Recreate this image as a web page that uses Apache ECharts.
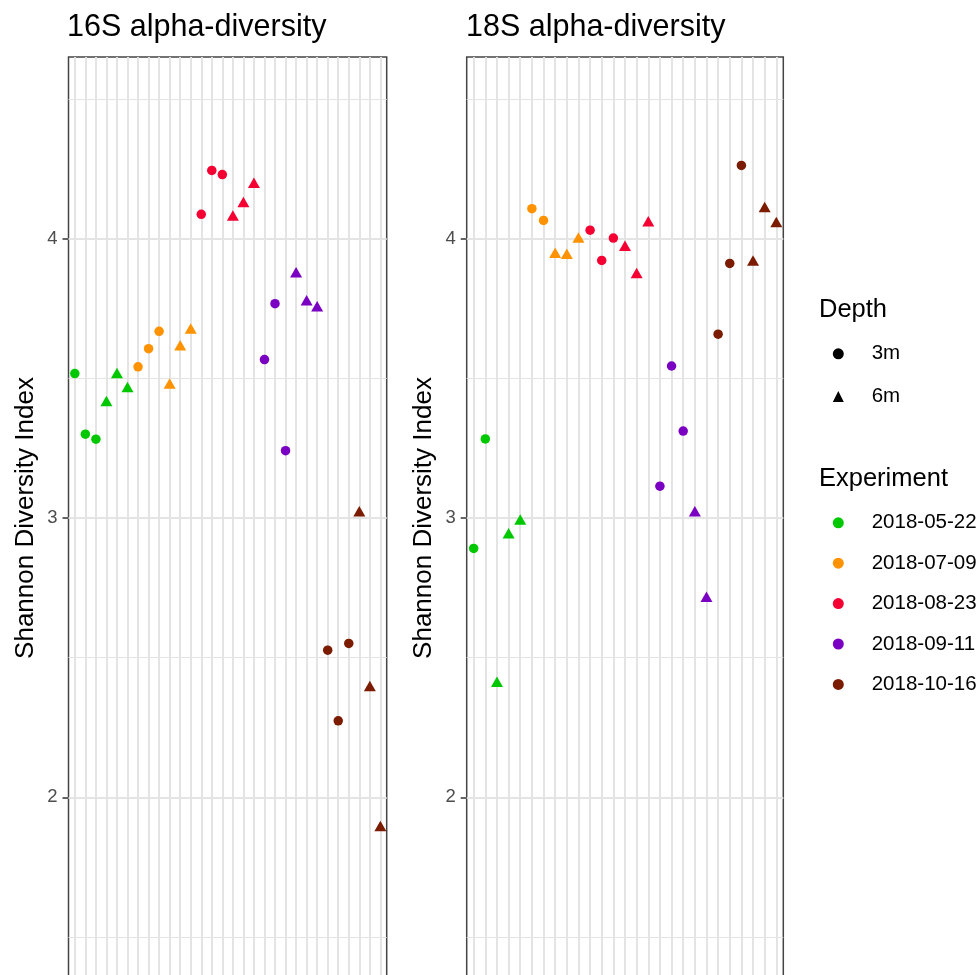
<!DOCTYPE html>
<html>
<head>
<meta charset="utf-8">
<script src="https://cdn.jsdelivr.net/npm/echarts@6/dist/echarts.min.js"></script>
<style>html,body{margin:0;padding:0;background:#fff;}#c{width:978px;height:975px;}</style>
</head>
<body>
<div id="c"></div>
<script>
// ---------- data ----------
const experiments = ['2018-05-22', '2018-07-09', '2018-08-23', '2018-09-11', '2018-10-16'];
const expColors = ['#00C800', '#FF9200', '#F50032', '#7A00C2', '#7B1B00'];
const depths = ['3m', '6m'];

// 16S samples (x order as plotted)
const samples16S = ['0522-3m-a','0522-3m-b','0522-3m-c','0522-6m-a','0522-6m-b','0522-6m-c',
  '0709-3m-a','0709-3m-b','0709-3m-c','0709-6m-a','0709-6m-b','0709-6m-c',
  '0823-3m-a','0823-3m-b','0823-3m-c','0823-6m-a','0823-6m-b','0823-6m-c',
  '0911-3m-a','0911-3m-b','0911-3m-c','0911-6m-a','0911-6m-b','0911-6m-c',
  '1016-3m-a','1016-3m-b','1016-3m-c','1016-6m-a','1016-6m-b','1016-6m-c'];
const exp16S = ['2018-05-22','2018-05-22','2018-05-22','2018-05-22','2018-05-22','2018-05-22',
  '2018-07-09','2018-07-09','2018-07-09','2018-07-09','2018-07-09','2018-07-09',
  '2018-08-23','2018-08-23','2018-08-23','2018-08-23','2018-08-23','2018-08-23',
  '2018-09-11','2018-09-11','2018-09-11','2018-09-11','2018-09-11','2018-09-11',
  '2018-10-16','2018-10-16','2018-10-16','2018-10-16','2018-10-16','2018-10-16'];
const depth16S = ['3m','3m','3m','6m','6m','6m','3m','3m','3m','6m','6m','6m',
  '3m','3m','3m','6m','6m','6m','3m','3m','3m','6m','6m','6m','3m','3m','3m','6m','6m','6m'];
const shannon16S = [3.517, 3.300, 3.282, 3.419, 3.519, 3.469,
  3.541, 3.606, 3.668, 3.481, 3.618, 3.678,
  4.087, 4.244, 4.229, 4.083, 4.131, 4.200,
  3.567, 3.767, 3.241, 3.880, 3.779, 3.758,
  2.527, 2.274, 2.551, 3.024, 2.399, 1.898];

// 18S samples
const samples18S = ['0522-3m-a','0522-3m-b','0522-6m-a','0522-6m-b','0522-6m-c',
  '0709-3m-a','0709-3m-b','0709-6m-a','0709-6m-b','0709-6m-c',
  '0823-3m-a','0823-3m-b','0823-3m-c','0823-6m-a','0823-6m-b','0823-6m-c',
  '0911-3m-a','0911-3m-b','0911-3m-c','0911-6m-a','0911-6m-b',
  '1016-3m-a','1016-3m-b','1016-3m-c','1016-6m-a','1016-6m-b','1016-6m-c'];
const exp18S = ['2018-05-22','2018-05-22','2018-05-22','2018-05-22','2018-05-22',
  '2018-07-09','2018-07-09','2018-07-09','2018-07-09','2018-07-09',
  '2018-08-23','2018-08-23','2018-08-23','2018-08-23','2018-08-23','2018-08-23',
  '2018-09-11','2018-09-11','2018-09-11','2018-09-11','2018-09-11',
  '2018-10-16','2018-10-16','2018-10-16','2018-10-16','2018-10-16','2018-10-16'];
const depth18S = ['3m','3m','6m','6m','6m','3m','3m','6m','6m','6m',
  '3m','3m','3m','6m','6m','6m','3m','3m','3m','6m','6m','3m','3m','3m','6m','6m','6m'];
const shannon18S = [2.891, 3.283, 2.414, 2.945, 2.995,
  4.107, 4.065, 3.949, 3.946, 4.004,
  4.030, 3.922, 4.002, 3.974, 3.877, 4.062,
  3.114, 3.544, 3.311, 3.024, 2.718,
  3.658, 3.911, 4.262, 3.922, 4.113, 4.059];

const yMajor = [2, 3, 4];
const yMinor = [1.5, 2.5, 3.5, 4.5];
const yLimits = [1.35, 4.65];
const yTitle = 'Shannon Diversity Index';
const panelTitles = ['16S alpha-diversity', '18S alpha-diversity'];

// ---------- build ----------
const FONT = 'Liberation Sans, Arial, Helvetica, sans-serif';
const GRID_COL = '#E4E4E4';
const symbolFor = { '3m': 'circle', '6m': 'triangle' };
const sizeFor = { '3m': 9.5, '6m': [12, 10.5] };

function panelSeries(p, samples, exps, deps, vals) {
  const out = [];
  // gridlines (drawn through the axes)
  out.push({
    type: 'scatter', xAxisIndex: p, yAxisIndex: p, data: [], z: 1, silent: true,
    markLine: {
      silent: true, symbol: ['none', 'none'], animation: false, z: 1,
      label: { show: false },
      lineStyle: { type: 'solid', color: GRID_COL, width: 1 },
      data: [
        ...yMinor.map(v => ({ yAxis: v, lineStyle: { width: 1, color: GRID_COL, type: 'solid' } })),
        ...yMajor.map(v => ({ yAxis: v, lineStyle: { width: 2, color: GRID_COL, type: 'solid' } })),
        ...samples.map((s, i) => ({ xAxis: i + 1, lineStyle: { width: 2, color: GRID_COL, type: 'solid' } }))
      ]
    }
  });
  experiments.forEach((e, ei) => {
    depths.forEach(d => {
      const data = [];
      vals.forEach((v, i) => { if (exps[i] === e && deps[i] === d) data.push([i + 1, v, samples[i]]); });
      if (!data.length) return;
      out.push({
        type: 'scatter', name: e, xAxisIndex: p, yAxisIndex: p, z: 10,
        symbol: symbolFor[d], symbolSize: sizeFor[d],
        itemStyle: { color: expColors[ei], opacity: 1 },
        data: data, animation: false
      });
    });
  });
  return out;
}

const series = [
  ...panelSeries(0, samples16S, exp16S, depth16S, shannon16S),
  ...panelSeries(1, samples18S, exp18S, depth18S, shannon18S),
  { type: 'scatter', name: '3m', xAxisIndex: 0, yAxisIndex: 0, data: [], symbol: 'circle', symbolSize: 10, itemStyle: { color: '#000', opacity: 1 } },
  { type: 'scatter', name: '6m', xAxisIndex: 0, yAxisIndex: 0, data: [], symbol: 'triangle', symbolSize: 11, itemStyle: { color: '#000', opacity: 1 } }
];

function yAxisCfg(g) {
  return {
    type: 'value', gridIndex: g, min: yLimits[0], max: yLimits[1],
    name: yTitle, nameLocation: 'middle', nameGap: 30,
    nameTextStyle: { fontFamily: FONT, fontSize: 26, color: '#000' },
    axisLine: { show: false },
    axisTick: { show: true, length: 6, lineStyle: { color: '#333', width: 1.5 }, customValues: yMajor },
    axisLabel: { show: true, margin: 11, fontFamily: FONT, fontSize: 18.5, color: '#4D4D4D', customValues: yMajor },
    splitLine: { show: false }, minorSplitLine: { show: false }
  };
}
function xAxisCfg(g, n) {
  return {
    type: 'value', gridIndex: g, min: 0.4, max: n + 0.6,
    axisLine: { show: false }, axisTick: { show: false }, axisLabel: { show: false },
    splitLine: { show: false }
  };
}

const titleStyle = { fontFamily: FONT, fontSize: 30.5, fontWeight: 'normal', color: '#000' };
const legendTitleStyle = { fontFamily: FONT, fontSize: 25.5, fontWeight: 'normal', color: '#000' };
const legendText = { fontFamily: FONT, fontSize: 20.5, color: '#000', lineHeight: 20, padding: [0, 0, 0, 22.9] };

const option = {
  backgroundColor: '#fff',
  animation: false,
  title: [
    { text: panelTitles[0], left: 67, top: 12, padding: 0, textStyle: titleStyle },
    { text: panelTitles[1], left: 466, top: 12, padding: 0, textStyle: titleStyle },
    { text: 'Depth', left: 819, top: 297, padding: 0, textStyle: legendTitleStyle },
    { text: 'Experiment', left: 819, top: 466, padding: 0, textStyle: legendTitleStyle }
  ],
  grid: [
    { left: 68.5, top: 57, width: 318.2, height: 922, show: true, borderColor: '#444', borderWidth: 1.5, backgroundColor: 'transparent', outerBoundsMode: 'none', containLabel: false },
    { left: 466.7, top: 57, width: 316.6, height: 922, show: true, borderColor: '#444', borderWidth: 1.5, backgroundColor: 'transparent', outerBoundsMode: 'none', containLabel: false }
  ],
  xAxis: [xAxisCfg(0, samples16S.length), xAxisCfg(1, samples18S.length)],
  yAxis: [yAxisCfg(0), yAxisCfg(1)],
  legend: [
    {
      orient: 'vertical', left: 832.8, top: 343.3, padding: 0,
      itemWidth: 11, itemHeight: 11, itemGap: 21.7, selectedMode: false,
      data: [{ name: '3m', icon: 'circle' }, { name: '6m', icon: 'triangle' }],
      textStyle: legendText
    },
    {
      orient: 'vertical', left: 832.8, top: 512.3, padding: 0,
      itemWidth: 11, itemHeight: 11, itemGap: 19.4, selectedMode: false,
      data: experiments.map(e => ({ name: e, icon: 'circle' })),
      textStyle: legendText
    }
  ],
  series: series
};

const chart = echarts.init(document.getElementById('c'), null, { renderer: 'canvas' });
chart.setOption(option);
</script>
</body>
</html>
